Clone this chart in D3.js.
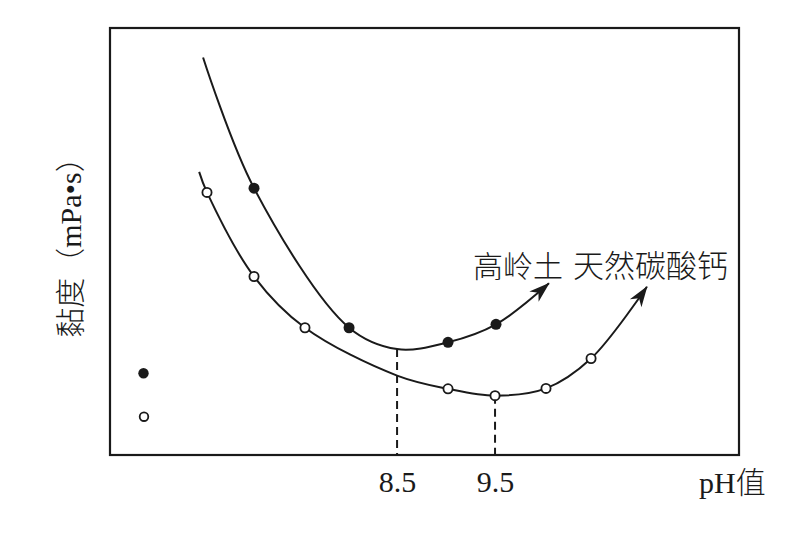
<!DOCTYPE html>
<html>
<head>
<meta charset="utf-8">
<script src="https://cdn.jsdelivr.net/npm/d3@7/dist/d3.min.js"></script>
<style>
  html, body { margin: 0; padding: 0; background: #fff; }
  svg { display: block; }
</style>
</head>
<body>
<svg id="chart" width="808" height="536"></svg>
<script>
// ---- data (viscosity in arbitrary units 0-100) ----
const phTicks = [8.5, 9.5];
const phDomain = [5.57, 11.99];
const viscDomain = [0, 100];

// smooth curve traces
const kaolinCurvePh   = [6.52, 7.04, 8.01, 8.5, 9.02, 9.51, 10.05];
const kaolinCurveVisc = [93.1, 62.5, 29.8, 24.8, 26.4, 30.6, 40.2];
const calciteCurvePh   = [6.48, 6.56, 7.04, 7.56, 8.5, 9.02, 9.5, 10.02, 10.48, 11.05];
const calciteCurveVisc = [66.3, 61.5, 41.8, 29.8, 18.6, 15.5, 13.9, 15.6, 22.6, 39.4];

// measured points
const kaolinPtPh   = [7.04, 8.01, 9.02, 9.51];
const kaolinPtVisc = [62.5, 29.8, 26.4, 30.6];
const calcitePtPh   = [6.56, 7.04, 7.56, 9.02, 9.5, 10.02, 10.48];
const calcitePtVisc = [61.5, 41.8, 29.8, 15.5, 13.9, 15.6, 22.6];

// optimum pH guide lines
const optimumPh   = [8.5, 9.5];
const optimumVisc = [24.8, 13.9];

const seriesNames = ["高岭土", "天然碳酸钙"];
const xLabel = "pH值";
const yLabel = "黏度（mPa•s）";

// ---- layout ----
const svg = d3.select("#chart");
const L = 110, R = 739, T = 28, B = 455;
const x = d3.scaleLinear().domain(phDomain).range([L, R]);
const y = d3.scaleLinear().domain(viscDomain).range([B, T]);
const ink = "#1a1a1a";
const serif = "'Liberation Serif', 'Times New Roman', 'Noto Sans CJK SC', serif";
const cjk = "'Noto Sans CJK SC', sans-serif";

// arrowhead
svg.append("defs").append("marker")
  .attr("id", "arrow")
  .attr("markerUnits", "userSpaceOnUse")
  .attr("viewBox", "-22 -8 24 16")
  .attr("refX", 0).attr("refY", 0)
  .attr("markerWidth", 24).attr("markerHeight", 16)
  .attr("orient", "auto")
  .append("path")
  .attr("d", "M1,0 L-20,-7 L-14,0 L-20,7 Z")
  .attr("fill", ink);

// frame
svg.append("rect")
  .attr("x", L).attr("y", T)
  .attr("width", R - L).attr("height", B - T)
  .attr("fill", "none").attr("stroke", ink).attr("stroke-width", 2.2);

// x axis labels
const xAxis = d3.axisBottom(x).tickValues(phTicks).tickSize(0).tickPadding(16)
  .tickFormat(d3.format(".1f"));
const gx = svg.append("g").attr("transform", `translate(0,${B})`).call(xAxis);
gx.select(".domain").remove();
gx.selectAll("text")
  .attr("font-family", serif).attr("font-size", 30).attr("fill", ink);

// dashed guides
svg.append("g").selectAll("line")
  .data(optimumPh.map((p, i) => [p, optimumVisc[i]]))
  .join("line")
  .attr("x1", d => x(d[0])).attr("x2", d => x(d[0]))
  .attr("y1", d => y(d[1])).attr("y2", B)
  .attr("stroke", ink).attr("stroke-width", 2)
  .attr("stroke-dasharray", "8,5");

// curves
const line = d3.line().x(d => x(d[0])).y(d => y(d[1])).curve(d3.curveCatmullRom.alpha(0.5));
const curves = [
  kaolinCurvePh.map((p, i) => [p, kaolinCurveVisc[i]]),
  calciteCurvePh.map((p, i) => [p, calciteCurveVisc[i]])
];
svg.append("g").selectAll("path")
  .data(curves)
  .join("path")
  .attr("d", line)
  .attr("fill", "none")
  .attr("stroke", ink)
  .attr("stroke-width", 2)
  .attr("marker-end", "url(#arrow)");

// points
svg.append("g").selectAll("circle")
  .data(kaolinPtPh.map((p, i) => [p, kaolinPtVisc[i]]))
  .join("circle")
  .attr("cx", d => x(d[0])).attr("cy", d => y(d[1]))
  .attr("r", 5.5).attr("fill", ink);
svg.append("g").selectAll("circle")
  .data(calcitePtPh.map((p, i) => [p, calcitePtVisc[i]]))
  .join("circle")
  .attr("cx", d => x(d[0])).attr("cy", d => y(d[1]))
  .attr("r", 4.6).attr("fill", "#fff").attr("stroke", ink).attr("stroke-width", 1.8);

// legend symbols
svg.append("circle").attr("cx", 143.5).attr("cy", 373.3).attr("r", 5.2).attr("fill", ink);
svg.append("circle").attr("cx", 144).attr("cy", 416.7).attr("r", 4.3)
  .attr("fill", "#fff").attr("stroke", ink).attr("stroke-width", 1.8);

// series labels
svg.append("text").attr("x", 473).attr("y", 277)
  .attr("font-family", cjk).attr("font-weight", 300).attr("font-size", 30).attr("fill", ink)
  .text(seriesNames[0]);
svg.append("text").attr("x", 573).attr("y", 277)
  .attr("font-family", cjk).attr("font-weight", 300).attr("font-size", 31).attr("fill", ink)
  .text(seriesNames[1]);

// axis titles
svg.append("text").attr("x", 699).attr("y", 493)
  .attr("font-family", serif).attr("font-weight", 300).attr("font-size", 30).attr("fill", ink)
  .text(xLabel);
svg.append("text")
  .attr("transform", "translate(81,240) rotate(-90)")
  .attr("text-anchor", "middle")
  .attr("font-family", serif).attr("font-weight", 300).attr("font-size", 30).attr("fill", ink)
  .text(yLabel);
</script>
</body>
</html>
